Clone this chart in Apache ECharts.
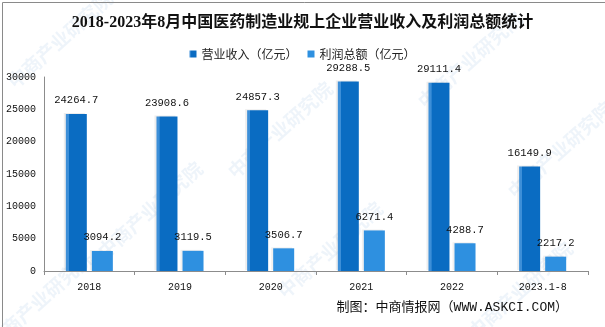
<!DOCTYPE html>
<html>
<head>
<meta charset="utf-8">
<script src="https://cdn.jsdelivr.net/npm/echarts@6/dist/echarts.min.js"></script>
<style>
  html, body { margin: 0; padding: 0; background: #fff; }
  #chart { width: 605px; height: 327px; }
</style>
</head>
<body>
<div id="chart"></div>
<script>
// Categories and series values
const categories = ['2018', '2019', '2020', '2021', '2022', '2023.1-8'];
const revenue = [24264.7, 23908.6, 24857.3, 29288.5, 29111.4, 16149.9];
const profit = [3094.2, 3119.5, 3506.7, 6271.4, 4288.7, 2217.2];
const seriesNames = ['营业收入（亿元）', '利润总额（亿元）'];
const yTicks = [0, 5000, 10000, 15000, 20000, 25000, 30000];

const monoFont = "'Liberation Mono', 'DejaVu Sans Mono', monospace";
const cjkFont = "'Liberation Mono', 'Noto Sans CJK SC', sans-serif";

// Faint diagonal watermark text
const wmPositions = [[60, 40], [280, 130], [470, 60], [150, 210], [330, 250], [560, 150], [40, 300], [520, 290]];
const watermarks = wmPositions.map(p => ({
  type: 'text',
  x: p[0], y: p[1],
  rotation: Math.PI * 42 / 180,
  silent: true,
  z: -1,
  style: {
    text: '中商产业研究院',
    fill: 'rgba(120,170,220,0.13)',
    font: "bold 19px 'Noto Sans CJK SC'",
    textAlign: 'center',
    textVerticalAlign: 'middle'
  }
}));

const chart = echarts.init(document.getElementById('chart'), null, { renderer: 'canvas' });
chart.setOption({
  backgroundColor: '#fff',
  animation: false,
  title: {
    text: '2018-2023年8月中国医药制造业规上企业营业收入及利润总额统计',
    left: 'center',
    top: 10,
    textStyle: {
      fontFamily: "'Liberation Serif', 'Noto Sans CJK SC', serif",
      fontSize: 16,
      fontWeight: 'bold',
      color: '#111'
    }
  },
  legend: {
    top: 43,
    left: 'center',
    icon: 'rect',
    itemWidth: 7,
    itemHeight: 7,
    itemGap: 10,
    textStyle: { fontFamily: "'Noto Sans CJK SC'", fontSize: 12, color: '#222' },
    data: seriesNames
  },
  grid: { left: 44, right: 17, top: 77, bottom: 56, containLabel: false },
  xAxis: {
    type: 'category',
    data: categories,
    axisLine: { lineStyle: { color: '#8c8c8c', width: 1 } },
    axisTick: { show: true, length: 4, lineStyle: { color: '#8c8c8c' } },
    axisLabel: { margin: 11, fontFamily: monoFont, fontSize: 10, color: '#111' }
  },
  yAxis: {
    type: 'value',
    min: yTicks[0],
    max: yTicks[yTicks.length - 1],
    interval: 5000,
    splitLine: { show: false },
    axisLine: { show: true, lineStyle: { color: '#8c8c8c', width: 1 } },
    axisTick: { show: false },
    axisLabel: {
      margin: 8, fontFamily: monoFont, fontSize: 10, color: '#111',
      formatter: v => String(v)
    }
  },
  series: [
    {
      name: seriesNames[0],
      type: 'bar',
      data: revenue,
      barWidth: 21,
      barGap: '24%',
      itemStyle: {
        color: new echarts.graphic.LinearGradient(0, 0, 1, 0, [
          { offset: 0, color: '#3d8fd8' },
          { offset: 0.14, color: '#3d8fd8' },
          { offset: 0.15, color: '#0a6cc2' },
          { offset: 1, color: '#0a6cc2' }
        ]),
        shadowColor: 'rgba(0,0,0,0.07)',
        shadowOffsetX: -2,
        shadowOffsetY: -1
      },
      label: {
        show: true,
        position: 'top',
        distance: 8,
        fontFamily: monoFont,
        fontSize: 10.5,
        color: '#111',
        formatter: p => p.value.toFixed(1)
      }
    },
    {
      name: seriesNames[1],
      type: 'bar',
      data: profit,
      barWidth: 21,
      itemStyle: {
        color: '#2e90e0',
        shadowColor: 'rgba(0,0,0,0.06)',
        shadowOffsetX: -2,
        shadowOffsetY: -1
      },
      label: {
        show: true,
        position: 'top',
        distance: 8,
        fontFamily: monoFont,
        fontSize: 10.5,
        color: '#111',
        formatter: p => p.value.toFixed(1)
      }
    }
  ],
  graphic: [
    ...watermarks,
    {
      type: 'text',
      right: 37,
      top: 301,
      style: {
        text: '制图：中商情报网（WWW.ASKCI.COM）',
        font: "13px " + cjkFont,
        fill: '#111'
      }
    },
    {
      type: 'rect',
      left: 0, top: 0,
      silent: true,
      shape: { x: 0.5, y: 0.5, width: 604, height: 326 },
      style: { fill: 'none', stroke: '#8a8a8a', lineWidth: 1 }
    }
  ]
});
</script>
</body>
</html>
